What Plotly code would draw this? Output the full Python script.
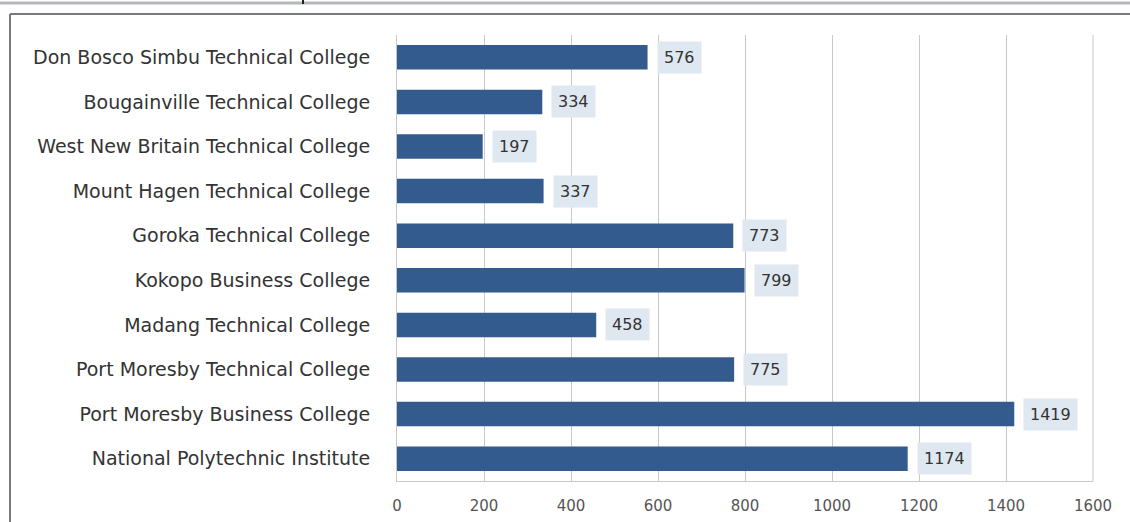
import plotly.graph_objects as go

colleges = [
    "Don Bosco Simbu Technical College",
    "Bougainville Technical College",
    "West New Britain Technical College",
    "Mount Hagen Technical College",
    "Goroka Technical College",
    "Kokopo Business College",
    "Madang Technical College",
    "Port Moresby Technical College",
    "Port Moresby Business College",
    "National Polytechnic Institute",
]
enrolments = [576, 334, 197, 337, 773, 799, 458, 775, 1419, 1174]
x_ticks = [0, 200, 400, 600, 800, 1000, 1200, 1400, 1600]

W, H = 1130, 522
L, R, T, B = 397, 37, 35, 41
pw, ph = W - L - R, H - T - B

def px(x):
    return (x - L) / pw

def py(y):
    return (H - B - y) / ph

fig = go.Figure(go.Bar(
    x=enrolments, y=colleges, orientation="h",
    marker=dict(color="#345b8e", line=dict(width=0)),
    width=0.55,
))

for c, v in zip(colleges, enrolments):
    fig.add_annotation(
        x=v, y=c, xref="x", yref="y", text=str(v), showarrow=False,
        xanchor="left", xshift=9, bgcolor="#dfe7f1",
        font=dict(family="DejaVu Sans", size=16, color="#333333"),
        borderpad=6,
    )

shapes = [
    dict(type="line", xref="paper", yref="paper", x0=px(0), x1=px(W), y0=py(3), y1=py(3),
         line=dict(color="#b4b8bc", width=3)),
    dict(type="line", xref="paper", yref="paper", x0=px(303), x1=px(303), y0=py(0), y1=py(4),
         line=dict(color="#222222", width=2)),
    dict(type="line", xref="paper", yref="paper", x0=px(10), x1=px(W), y0=py(14), y1=py(14),
         line=dict(color="#7a7a7a", width=2)),
    dict(type="line", xref="paper", yref="paper", x0=px(10), x1=px(10), y0=py(14), y1=py(H),
         line=dict(color="#7a7a7a", width=2)),
    dict(type="line", xref="paper", yref="paper", x0=1, x1=1, y0=0, y1=1,
         line=dict(color="#c8c8c8", width=1)),
]

fig.update_layout(
    width=W, height=H,
    margin=dict(l=L, r=R, t=T, b=B),
    paper_bgcolor="white", plot_bgcolor="white",
    showlegend=False,
    bargap=0.4,
    shapes=shapes,
    xaxis=dict(
        range=[0, 1600], tickvals=x_ticks, ticktext=[str(t) for t in x_ticks],
        showgrid=True, gridcolor="#c8c8c8", gridwidth=1,
        showline=True, linecolor="#c8c8c8", linewidth=1,
        zeroline=False, ticks="", ticklen=0, ticklabelstandoff=11,
        tickfont=dict(family="DejaVu Sans", size=15, color="#555555"),
        automargin=False,
        fixedrange=True,
    ),
    yaxis=dict(
        autorange="reversed", showgrid=False, zeroline=False,
        showline=True, linecolor="#c8c8c8", linewidth=1,
        ticks="", ticklabelstandoff=22,
        tickfont=dict(family="DejaVu Sans", size=19, color="#333333"),
        automargin=False,
        fixedrange=True,
    ),
)

fig.write_html("out.html")
